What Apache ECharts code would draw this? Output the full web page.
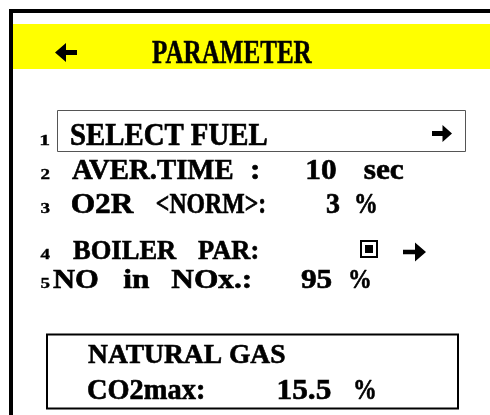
<!DOCTYPE html>
<html><head><meta charset="utf-8">
<script src="https://cdn.jsdelivr.net/npm/echarts@6/dist/echarts.min.js"></script>
<style>html,body{margin:0;padding:0;background:#fff;overflow:hidden}#c{width:490px;height:415px}</style>
</head><body><div id="c"></div>
<script>
// ---- content ----
const titleText = 'PARAMETER';
const itemNumbers = ['1', '2', '3', '4', '5'];
const itemLabels = [['SELECT FUEL'], ['AVER.TIME', ':'], ['O2R', '<NORM>:'], ['BOILER', 'PAR:'], ['NO', 'in', 'NOx.:']];
const itemValues = ['', '10', '3', '', '95'];
const itemUnits = ['', 'sec', '%', '', '%'];
const fuelName = 'NATURAL GAS';
const fuelParam = 'CO2max:';
const fuelValue = '15.5';
const fuelUnit = '%';

// ---- layout ----
const FONT_FAMILY = "'Liberation Serif', 'Times New Roman', serif";
const rowCaps = [[125, 145], [160, 179], [194, 213], [241, 259], [270, 288]];
const labelExt = [[[71, 267]], [[72, 233], [252, 258]], [[71, 135], [163, 258]], [[73, 177], [198, 257]], [[53, 98], [120, 153], [163, 258]]];
const valueExt = [null, [306, 337], [327, 340], null, [300, 332]];
const unitExt = [null, [357, 410], [357, 375], null, [350, 370]];

const cv = document.createElement('canvas');
const ctx = cv.getContext('2d');
ctx.textBaseline = 'middle';
ctx.textAlign = 'left';

function fitText(str, x0, x1, capTop, capBot, fontSize, minS, maxS, heavy) {
  const font = 'bold ' + fontSize + 'px ' + FONT_FAMILY;
  ctx.font = font;
  const m = ctx.measureText(str);
  const h = ctx.measureText('H');
  const inkW = m.actualBoundingBoxLeft + m.actualBoundingBoxRight;
  const lo = minS || 0.85, hi = maxS || 1.12;
  let sx = (x1 - x0) / inkW;
  sx = Math.max(lo, Math.min(hi, sx));
  const a = h.actualBoundingBoxAscent, d = h.actualBoundingBoxDescent;
  const sy = (capBot - capTop) / (a + d);
  const cy = (capTop + capBot) / 2;
  const y = cy - sy * (d - a) / 2;
  const left = (x0 + x1) / 2 - inkW * sx / 2;
  const x = left + m.actualBoundingBoxLeft * sx;
  return {
    type: 'text', x: x, y: y, scaleX: sx, scaleY: sy, originX: 0, originY: 0, silent: true,
    style: { text: str, x: 0, y: 0, font: font, fill: '#000', stroke: '#000', lineWidth: heavy == null ? 0.6 : heavy,
      textAlign: 'left', align: 'left', textVerticalAlign: 'middle', verticalAlign: 'middle' }
  };
}
function arrow(xTail, xTip, cy, headW, headHalf, shaftHalf) {
  const dir = xTip > xTail ? 1 : -1;
  const hb = xTip - dir * headW;
  return {
    type: 'polygon', silent: true,
    shape: { points: [[xTip, cy], [hb, cy - headHalf], [hb, cy - shaftHalf], [xTail, cy - shaftHalf],
      [xTail, cy + shaftHalf], [hb, cy + shaftHalf], [hb, cy + headHalf]] },
    style: { fill: '#000' }
  };
}

const els = [];
// yellow header band and outer frame
els.push({ type: 'rect', silent: true, shape: { x: 13, y: 24, width: 480, height: 45 }, style: { fill: '#ffff00' } });
els.push({ type: 'rect', silent: true, shape: { x: 11, y: 11, width: 600, height: 600 }, style: { fill: 'none', stroke: '#000', lineWidth: 4 } });
els.push(arrow(77, 55, 52.5, 11, 9.5, 2.6));
els.push(fitText(titleText, 152, 312, 42, 63, 30, 0.7, 1, 0.5));

// selection box for item 1
els.push({ type: 'rect', silent: true, shape: { x: 57.5, y: 110.5, width: 408, height: 41 }, style: { fill: 'none', stroke: '#555', lineWidth: 1 } });

itemNumbers.forEach((n, i) => {
  const [ct, cb] = rowCaps[i];
  els.push(fitText(n, 40.5, 50, cb - 10, cb - 0.5, 16, 0.8, 1.35, 0.4));
  itemLabels[i].forEach((s, j) => {
    const e = labelExt[i][j];
    els.push(fitText(s, e[0], e[1], ct, cb, 28));
  });
  if (itemValues[i]) els.push(fitText(itemValues[i], valueExt[i][0], valueExt[i][1], ct, cb, 28));
  if (itemUnits[i]) els.push(fitText(itemUnits[i], unitExt[i][0], unitExt[i][1], ct, cb, 28));
});

// row icons
els.push(arrow(432, 452, 133.5, 9.5, 8.5, 2.4));
els.push({ type: 'rect', silent: true, shape: { x: 361, y: 241, width: 16, height: 16 }, style: { fill: 'none', stroke: '#000', lineWidth: 2 } });
els.push({ type: 'rect', silent: true, shape: { x: 365, y: 245, width: 8, height: 8 }, style: { fill: '#000' } });
els.push(arrow(403, 426, 252, 11, 9.5, 2.3));

// fuel info box
els.push({ type: 'rect', silent: true, shape: { x: 47, y: 334.5, width: 411, height: 74 }, style: { fill: 'none', stroke: '#000', lineWidth: 2 } });
els.push(fitText(fuelName, 88, 285, 345, 363, 28));
els.push(fitText(fuelParam, 88, 203, 380, 399, 28));
els.push(fitText(fuelValue, 272, 337, 380, 399, 28));
els.push(fitText(fuelUnit, 355, 375, 380, 399, 28));

const chart = echarts.init(document.getElementById('c'), null, { renderer: 'canvas' });
chart.setOption({ backgroundColor: '#fff', animation: false, graphic: { elements: els } });
</script>
</body></html>
